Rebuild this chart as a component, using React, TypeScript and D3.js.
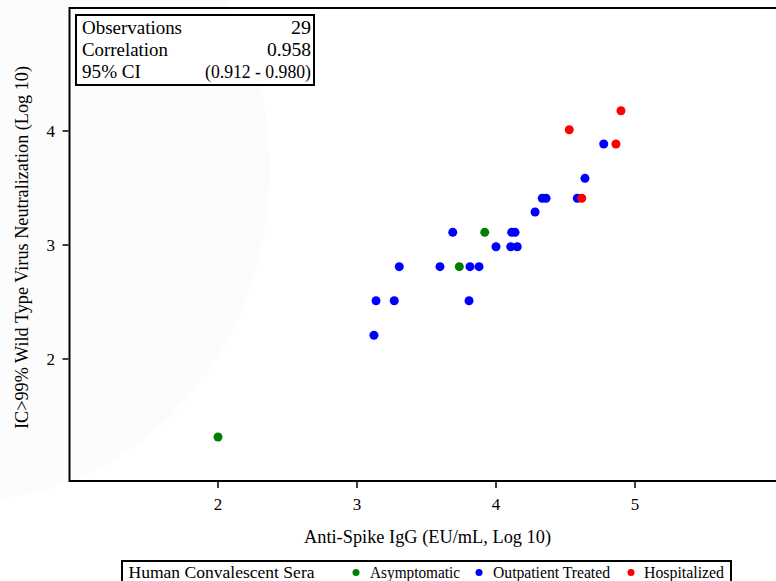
import React from "react";
import * as d3 from "d3";

const groups = ["Asymptomatic", "Outpatient Treated", "Hospitalized"];
const groupColors = ["#008000", "#0000ff", "#ff0000"];

const asymX = [2.0, 3.919, 3.736];
const asymY = [1.316, 3.111, 2.81];

const outX = [3.689, 4.113, 4.137, 4.0, 4.106, 4.153, 3.304, 3.597, 3.813, 3.878, 3.137, 3.268, 3.806, 3.122, 4.281, 4.333, 4.36, 4.585, 4.64, 4.775];
const outY = [3.111, 3.111, 3.111, 2.985, 2.985, 2.985, 2.81, 2.81, 2.81, 2.81, 2.511, 2.511, 2.511, 2.208, 3.289, 3.41, 3.41, 3.41, 3.585, 3.886];

const hospX = [4.617, 4.863, 4.527, 4.899];
const hospY = [3.41, 3.886, 4.011, 4.178];

const xTicks = [2, 3, 4, 5];
const yTicks = [2, 3, 4];

const statLabels = ["Observations", "Correlation", "95% CI"];
const statValues = ["29", "0.958", "(0.912 - 0.980)"];

const xTitle = "Anti-Spike IgG (EU/mL, Log 10)";
const yTitle = "IC>99% Wild Type Virus Neutralization (Log 10)";
const legendTitle = "Human Convalescent Sera";

export default function App() {
  const W = 776, H = 581;
  const ts = { fontFamily: "Liberation Serif" } as React.CSSProperties;
  const x = d3.scaleLinear().domain([2, 5]).range([218, 635]);
  const y = d3.scaleLinear().domain([2, 4]).range([359, 131]);
  const frame = { left: 69.5, top: 8, right: 800, bottom: 481 };

  const series = [
    { xs: asymX, ys: asymY, color: groupColors[0] },
    { xs: outX, ys: outY, color: groupColors[1] },
    { xs: hospX, ys: hospY, color: groupColors[2] },
  ];

  const statLabelLen = [100, 86, 59];
  const statValueStart = [291, 267, 205];
  const statRight = 311;

  const legendItems = [
    { label: groups[0], dot: 356, text: 370, end: 460 },
    { label: groups[1], dot: 479, text: 493, end: 610 },
    { label: groups[2], dot: 631, text: 644, end: 724 },
  ];

  return (
    <svg width={W} height={H} style={{ position: "absolute", left: 0, top: 0, background: "#fff" }}>
      <rect x={0} y={0} width={W} height={H} fill="#fff" />
      <ellipse cx={-30} cy={170} rx={300} ry={330} fill="#fcfcfc" />
      <rect x={frame.left} y={frame.top} width={frame.right - frame.left} height={frame.bottom - frame.top} fill="none" stroke="#000" strokeWidth={2} />
      {xTicks.map((t) => (
        <g key={"x" + t}>
          <line x1={x(t)} x2={x(t)} y1={frame.bottom + 1} y2={frame.bottom + 7} stroke="#000" strokeWidth={1.5} />
          <text style={ts} x={x(t)} y={frame.bottom + 29} textAnchor="middle" fontSize={17}>{t}</text>
        </g>
      ))}
      {yTicks.map((t) => (
        <g key={"y" + t}>
          <line x1={frame.left - 7} x2={frame.left - 1} y1={y(t)} y2={y(t)} stroke="#000" strokeWidth={1.5} />
          <text style={ts} x={55} y={y(t) + 6} textAnchor="end" fontSize={17}>{t}</text>
        </g>
      ))}
      <text style={ts} x={304} y={543} fontSize={18} textLength={247} lengthAdjust="spacingAndGlyphs">{xTitle}</text>
      <text style={ts} transform={`translate(28,429) rotate(-90)`} fontSize={18} textLength={363} lengthAdjust="spacingAndGlyphs">{yTitle}</text>

      {series.map((s, si) =>
        s.xs.map((v, i) => (
          <circle key={si + "-" + i} cx={x(v)} cy={y(s.ys[i])} r={4.5} fill={s.color} />
        ))
      )}

      <rect x={76} y={15} width={238} height={70} fill="#fff" stroke="#000" strokeWidth={2} />
      {statLabels.map((l, i) => (
        <g key={l}>
          <text style={ts} x={82} y={34 + i * 22} fontSize={18} textLength={statLabelLen[i]} lengthAdjust="spacingAndGlyphs">{l}</text>
          <text style={ts} x={statValueStart[i]} y={34 + i * 22} fontSize={18} textLength={statRight - statValueStart[i]} lengthAdjust="spacingAndGlyphs">{statValues[i]}</text>
        </g>
      ))}

      <rect x={122} y={561} width={609} height={26} fill="#fff" stroke="#000" strokeWidth={2} />
      <text style={ts} x={128.5} y={578} fontSize={16.5} textLength={186} lengthAdjust="spacingAndGlyphs">{legendTitle}</text>
      {legendItems.map((it, i) => (
        <g key={it.label}>
          <circle cx={it.dot} cy={572.5} r={3.5} fill={groupColors[i]} />
          <text style={ts} x={it.text} y={578} fontSize={16} textLength={it.end - it.text} lengthAdjust="spacingAndGlyphs">{it.label}</text>
        </g>
      ))}
    </svg>
  );
}
